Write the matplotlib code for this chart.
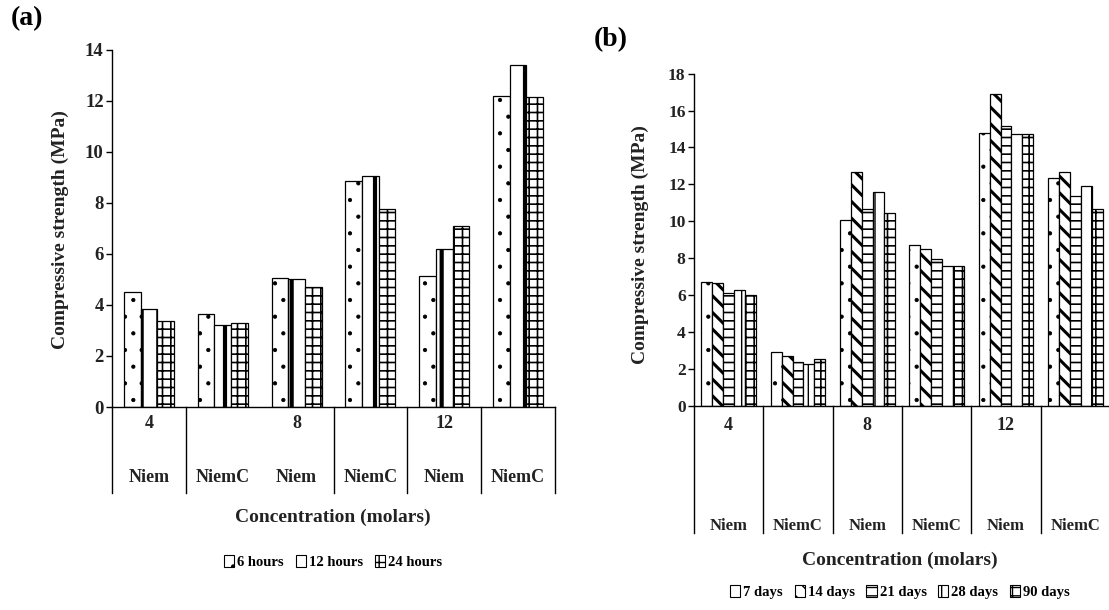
import matplotlib
matplotlib.use("Agg")
import matplotlib.pyplot as plt
import matplotlib.patches as mpatches
import numpy as np

# ---------------- data ----------------
cats = ["Niem", "NiemC", "Niem", "NiemC", "Niem", "NiemC"]
conc_labels = ["4", "8", "12"]
conc_pos = [0, 2, 4]

series_a = ["6 hours", "12 hours", "24 hours"]
a_6h = [4.50, 3.65, 5.07, 8.85, 5.12, 12.20]
a_12h = [3.85, 3.20, 5.02, 9.05, 6.17, 13.40]
a_24h = [3.35, 3.28, 4.72, 7.75, 7.08, 12.15]

series_b = ["7 days", "14 days", "21 days", "28 days", "90 days"]
b_7d = [6.73, 2.92, 10.05, 8.72, 14.80, 12.32]
b_14d = [6.66, 2.70, 12.68, 8.52, 16.90, 12.68]
b_21d = [6.11, 2.38, 10.66, 7.96, 15.15, 11.34]
b_28d = [6.25, 2.24, 11.56, 7.56, 14.75, 11.90]
b_90d = [5.98, 2.51, 10.46, 7.56, 14.75, 10.68]

W, H = 1109, 610
fig = plt.figure(figsize=(W / 100, H / 100), dpi=100)
plt.rcParams['font.family'] = ['Liberation Serif', 'DejaVu Serif']
plt.rcParams['font.weight'] = 'bold'
plt.rcParams['hatch.color'] = 'black'

TXT = '#222222'


def fx(px):
    return px / W


def fy(py):
    return 1 - py / H


def style_axis(ax, ymax, fs):
    ax.set_xlim(-0.5, 5.5)
    ax.set_ylim(0, ymax)
    ax.set_yticks(np.arange(0, ymax + 1, 2))
    ax.spines['top'].set_visible(False)
    ax.spines['right'].set_visible(False)
    ax.spines['left'].set_linewidth(1.0)
    ax.spines['bottom'].set_linewidth(1.0)
    ax.set_xticks([])
    ax.tick_params(axis='y', direction='out', length=4, width=1, labelsize=fs, pad=2)
    for t in ax.get_yticklabels():
        t.set_fontweight('bold')
        t.set_color(TXT)


# ---------------- panel (a) ----------------
axa = fig.add_axes([fx(112), fy(407), fx(555) - fx(112), fy(49.6) - fy(407)])
xa = np.arange(len(cats))
wa = 0.226
hatches_a = ['.', '|', '++']
vals_a = [a_6h, a_12h, a_24h]
hlw_a = [0.6, 3.0, 1.2]
for i, (v, h) in enumerate(zip(vals_a, hatches_a)):
    plt.rcParams['hatch.linewidth'] = hlw_a[i]
    axa.bar(xa + (i - 1) * wa, v, width=wa, color='white', edgecolor='black',
            linewidth=0.9, hatch=h, zorder=2)
style_axis(axa, 14, 13.5)

# category table (a)
sa = 14 / (407 - 49.6)
for xb in [-0.5, 0.5, 2.5, 3.5, 4.5, 5.5]:
    axa.plot([xb, xb], [0, -(493 - 407) * sa], color='black', lw=1.0, clip_on=False)
for lab, p in zip(conc_labels, conc_pos):
    axa.text(p, -(423 - 407) * sa, lab, ha='center', va='center',
             fontsize=13, fontweight='bold', color=TXT)
for i, c in enumerate(cats):
    axa.text(i, -(477 - 407) * sa, c, ha='center', va='center',
             fontsize=13, fontweight='bold', color=TXT)

fig.text(fx(333), fy(517), "Concentration (molars)", ha='center', va='center',
         fontsize=14, fontweight='bold', color=TXT)
fig.text(fx(60), fy(230), "Compressive strength (MPa)", ha='center', va='center',
         rotation=90, fontsize=14, fontweight='bold', color=TXT)
fig.text(fx(11), fy(19), "(a)", ha='left', va='center', fontsize=20, fontweight='bold')

plt.rcParams['hatch.linewidth'] = 1.0
handles_a = [mpatches.Patch(facecolor='white', edgecolor='black', hatch=h, lw=0.8)
             for h in hatches_a]
fig.legend(handles_a, series_a, loc='center', bbox_to_anchor=(fx(333), fy(562)),
           ncol=3, frameon=False, handlelength=0.7, handleheight=0.9,
           handletextpad=0.2, columnspacing=0.8, prop={'weight': 'bold', 'size': 10.5})

# ---------------- panel (b) ----------------
axb = fig.add_axes([fx(694), fy(405.7), fx(1110) - fx(694), fy(73.6) - fy(405.7)])
wb = 0.157
hatches_b = ['.', '\\\\', '--', '|', '++']
vals_b = [b_7d, b_14d, b_21d, b_28d, b_90d]
hlw_b = [0.6, 2.2, 1.2, 1.0, 1.2]
for i, (v, h) in enumerate(zip(vals_b, hatches_b)):
    plt.rcParams['hatch.linewidth'] = hlw_b[i]
    axb.bar(xa + (i - 2) * wb, v, width=wb, color='white', edgecolor='black',
            linewidth=0.9, hatch=h, zorder=2)
style_axis(axb, 18, 12.5)

sb = 18 / (405.7 - 73.6)
for xb in [-0.5, 0.5, 1.5, 2.5, 3.5, 4.5, 5.5]:
    axb.plot([xb, xb], [0, -(533 - 405.7) * sb], color='black', lw=1.0, clip_on=False)
for lab, p in zip(conc_labels, conc_pos):
    axb.text(p, -(425 - 405.7) * sb, lab, ha='center', va='center',
             fontsize=13, fontweight='bold', color=TXT)
for i, c in enumerate(cats):
    axb.text(i, -(526 - 405.7) * sb, c, ha='center', va='center',
             fontsize=12, fontweight='bold', color=TXT)

fig.text(fx(900), fy(560), "Concentration (molars)", ha='center', va='center',
         fontsize=14, fontweight='bold', color=TXT)
fig.text(fx(640), fy(245), "Compressive strength (MPa)", ha='center', va='center',
         rotation=90, fontsize=14, fontweight='bold', color=TXT)
fig.text(fx(594), fy(40), "(b)", ha='left', va='center', fontsize=20, fontweight='bold')

plt.rcParams['hatch.linewidth'] = 1.0
handles_b = [mpatches.Patch(facecolor='white', edgecolor='black', hatch=h, lw=0.8)
             for h in hatches_b]
fig.legend(handles_b, series_b, loc='center', bbox_to_anchor=(fx(900), fy(592)),
           ncol=5, frameon=False, handlelength=0.7, handleheight=0.9,
           handletextpad=0.2, columnspacing=0.8, prop={'weight': 'bold', 'size': 10.5})

fig.savefig("out.png", dpi=100)
